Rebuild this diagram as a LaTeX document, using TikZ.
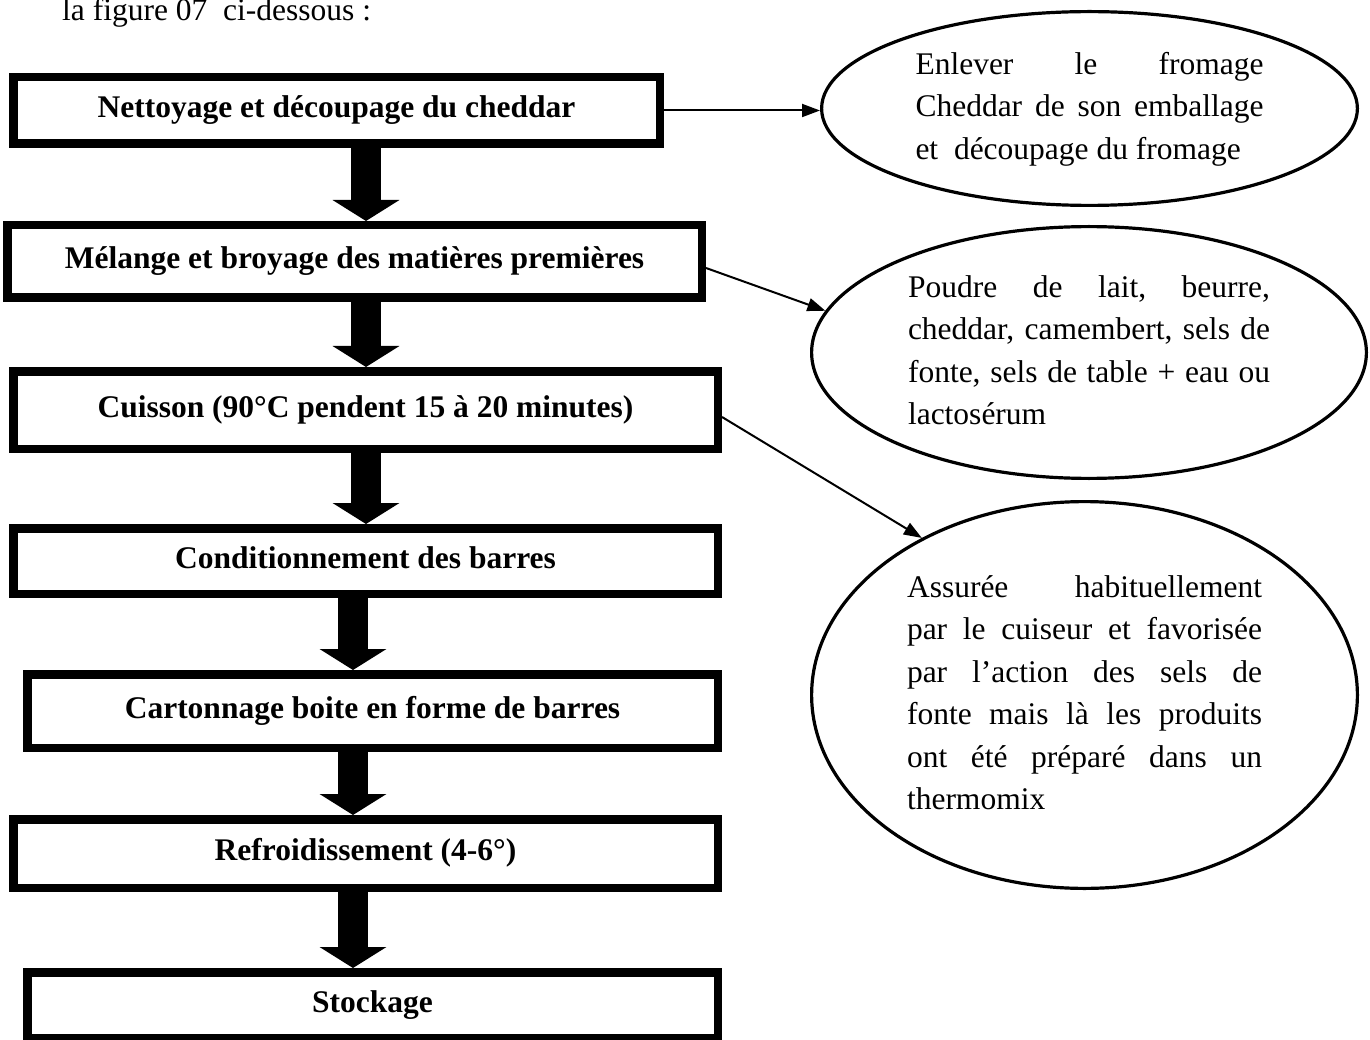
\documentclass[tikz,border=0pt]{standalone}
\usepackage{fontspec}
\setmainfont{Liberation Serif}
\usetikzlibrary{shapes.geometric,arrows.meta,calc}
% one line of justified text, and one flush-left last line
\newcommand{\jline}[2]{\makebox[#1][s]{\strut #2}}
\newcommand{\lline}[2]{\makebox[#1][l]{\strut #2}}
\frenchspacing

\begin{document}
\begin{tikzpicture}[x=1pt, y=-1pt,
  every node/.style={font=\fontsize{31.5pt}{42.5pt}\selectfont, inner sep=0pt},
  stepbox/.style={draw, rectangle, line width=8.5pt,
    font=\fontsize{31.5pt}{42.5pt}\selectfont\bfseries,
    text height=21.5pt, text depth=7pt},
  note/.style={draw, ellipse, line width=3.2pt},
  flow/.style={line width=30pt, -{Triangle[length=21pt,width=66pt]}},
  link/.style={line width=2pt, -{Triangle[length=18pt,width=13pt]}}]

\useasboundingbox (0,0) rectangle (1370,1040);
\clip (0,0) rectangle (1370,1040);

% lead-in line of the page
\node[anchor=base west] (caption) at (62,21) {la figure 07\ \ ci-dessous :};

% process steps
\node[stepbox, minimum width=646.5pt, minimum height=66.5pt] (b1) at (336.5,110.5)
  {Nettoyage et découpage du cheddar};
\node[stepbox, minimum width=694.5pt, minimum height=72.5pt] (b2) at (354.5,261.5)
  {Mélange et broyage des matières premières};
\node[stepbox, minimum width=704.5pt, minimum height=77.5pt] (b3) at (365.5,410)
  {Cuisson (90°C pendent 15 à 20 minutes)};
\node[stepbox, minimum width=704.5pt, minimum height=65.5pt] (b4) at (365.5,561)
  {Conditionnement des barres};
\node[stepbox, minimum width=690.5pt, minimum height=73.5pt] (b5) at (372.5,711)
  {Cartonnage boite en forme de barres};
\node[stepbox, minimum width=704.5pt, minimum height=68.5pt] (b6) at (365.5,853.5)
  {Refroidissement (4-6°)};
\node[stepbox, minimum width=690.5pt, minimum height=65.5pt] (b7) at (372.5,1005)
  {Stockage};

% explanatory notes
\node[note, minimum width=535.8pt, minimum height=193.8pt] (e1) at (1089.5,108.5)
  {\parbox{348pt}{%
    \jline{348pt}{Enlever le fromage}\par
    \jline{348pt}{Cheddar de son emballage}\par
    \lline{348pt}{et\ \ découpage du fromage}}};
\node[note, minimum width=554.8pt, minimum height=251.8pt] (e2) at (1089,352.5)
  {\parbox{362pt}{%
    \jline{362pt}{Poudre de lait, beurre,}\par
    \jline{362pt}{cheddar, camembert, sels de}\par
    \jline{362pt}{fonte, sels de table + eau ou}\par
    \lline{362pt}{lactosérum}}};
\node[note, minimum width=545.8pt, minimum height=386.8pt] (e3) at (1084.5,695)
  {\parbox{355pt}{%
    \jline{355pt}{Assurée habituellement}\par
    \jline{355pt}{par le cuiseur et favorisée}\par
    \jline{355pt}{par l’action des sels de}\par
    \jline{355pt}{fonte mais là les produits}\par
    \jline{355pt}{ont été préparé dans un}\par
    \lline{355pt}{thermomix}}};

% thick flow arrows between the steps
\coordinate (axA) at (366,0);
\coordinate (axB) at (353,0);
\foreach \a/\b/\c in {b1/b2/axA, b2/b3/axA, b3/b4/axA, b4/b5/axB, b5/b6/axB, b6/b7/axB}
  \draw[flow] (\a.south -| \c) -- (\b.north -| \c);

% thin arrows to the notes
\draw[link] (b1.east) -- (b1.east -| e1.west);
\draw[link] ($(b2.east)+(0,6.5)$) -- (e2.171);
\draw[link] ($(b3.east)+(0,7)$) -- (e3.136);

\end{tikzpicture}
\end{document}
